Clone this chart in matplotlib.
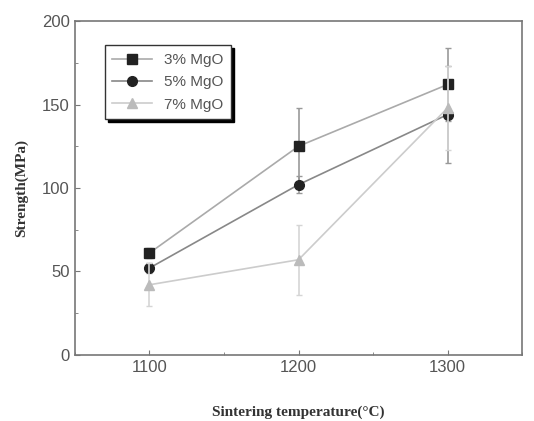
import matplotlib.pyplot as plt
from matplotlib.ticker import MultipleLocator

# data
temps = [1100, 1200, 1300]
mgo3 = [61, 125, 162]
mgo5 = [52, 102, 144]
mgo7 = [42, 57, 148]
err3 = [3, 23, 22]
err5 = [3, 5, 29]
err7 = [13, 21, 25]
labels = ['3% MgO', '5% MgO', '7% MgO']

fig = plt.figure(figsize=(5.34, 4.21), dpi=100)
ax = fig.add_axes([0.140, 0.157, 0.838, 0.793])

series = [
    (mgo3, err3, 's', '#aaaaaa', '#999999', '#222222'),
    (mgo5, err5, 'o', '#888888', '#999999', '#222222'),
    (mgo7, err7, '^', '#cccccc', '#d5d5d5', '#bbbbbb'),
]
for (vals, err, mk, lc, ec, fc), lab in zip(series, labels):
    ax.errorbar(temps, vals, yerr=err, fmt='none', ecolor=ec, lw=1.2, capsize=2)
    ax.plot(temps, vals, color=lc, lw=1.2, marker=mk, ms=7, mfc=fc, mec=fc, label=lab)

ax.set_xlim(1050, 1350)
ax.set_ylim(0, 200)
ax.set_xticks(temps)
ax.set_yticks([0, 50, 100, 150, 200])
ax.xaxis.set_minor_locator(MultipleLocator(50))
ax.yaxis.set_minor_locator(MultipleLocator(25))
ax.tick_params(which='both', direction='in', colors='#777777', labelcolor='#555555',
               labelsize=12)
for lab in ax.get_xticklabels() + ax.get_yticklabels():
    lab.set_family('Liberation Sans')
for s in ax.spines.values():
    s.set_color('#777777')
    s.set_linewidth(1.2)

ax.set_ylabel('Strength(MPa)', family='Liberation Serif', fontweight='bold',
              fontsize=11, color='#333333', labelpad=10)
ax.set_xlabel('Sintering temperature(°C)', family='Liberation Serif', fontweight='bold',
              fontsize=11, color='#333333', labelpad=22)

leg = ax.legend(loc='upper left', bbox_to_anchor=(0.05, 0.95), frameon=True,
                shadow={'color': 'black', 'alpha': 1}, fancybox=False,
                edgecolor='#333333', handlelength=2.6, borderpad=0.5, labelspacing=0.55,
                prop={'family': 'Liberation Sans', 'size': 11})
for t in leg.get_texts():
    t.set_color('#555555')

plt.savefig('out.png', dpi=100)
